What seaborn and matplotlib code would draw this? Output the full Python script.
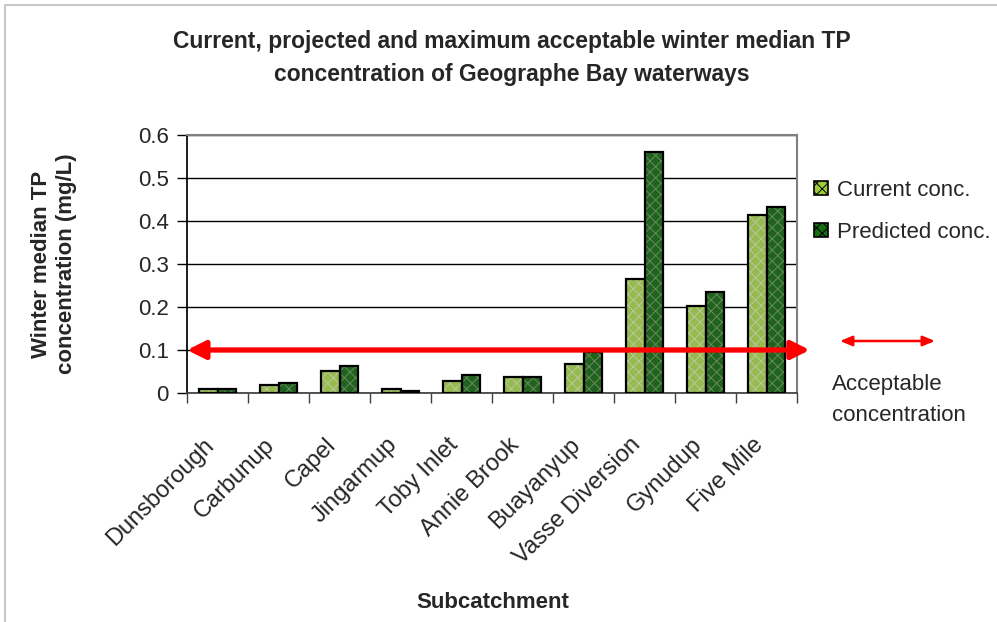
import numpy as np
import pandas as pd
import matplotlib
matplotlib.use("Agg")
import matplotlib.pyplot as plt
import matplotlib.transforms as mtransforms
from matplotlib.patches import Rectangle, Patch
import seaborn as sns

# Data
subcatchments = ["Dunsborough", "Carbunup", "Capel", "Jingarmup", "Toby Inlet",
                 "Annie Brook", "Buayanyup", "Vasse Diversion", "Gynudup", "Five Mile"]
current_conc = [0.010, 0.018, 0.052, 0.010, 0.028, 0.038, 0.067, 0.265, 0.202, 0.414]
predicted_conc = [0.010, 0.023, 0.062, 0.004, 0.043, 0.038, 0.095, 0.560, 0.236, 0.433]
series_names = ["Current conc.", "Predicted conc."]
acceptable = 0.1
y_ticks = [0, 0.1, 0.2, 0.3, 0.4, 0.5, 0.6]
y_ticklabels = ["0", "0.1", "0.2", "0.3", "0.4", "0.5", "0.6"]

df = pd.DataFrame({
    "Subcatchment": subcatchments * 2,
    "value": current_conc + predicted_conc,
    "Series": [series_names[0]] * len(subcatchments) + [series_names[1]] * len(subcatchments),
})

sns.set_theme(style="white")
plt.rcParams["font.family"] = ["Liberation Sans", "DejaVu Sans"]
plt.rcParams["hatch.linewidth"] = 0.7

face_colors = ["#9ccc3c", "#146e14"]
hatch_colors = ["#b8c8a0", "#6a8a5a"]

fig = plt.figure(figsize=(9.97, 6.22), dpi=100)
ax = fig.add_axes([187 / 997, 1 - 393 / 622, 610 / 997, 258 / 622])

sns.barplot(data=df, x="Subcatchment", y="value", hue="Series",
            palette=face_colors, width=0.6, gap=0, legend=False, ax=ax,
            errorbar=None)

# hatch + black outline like the excel bars
n = len(subcatchments)
for i, bar in enumerate(ax.patches[:2 * n]):
    s = i // n
    bar.set_hatch("xxx")
    bar.set_edgecolor(hatch_colors[s])
    bar.set_linewidth(0)
    ax.add_patch(Rectangle((bar.get_x(), bar.get_y()), bar.get_width(), bar.get_height(),
                           fill=False, edgecolor="black", linewidth=1.6, zorder=3))

ax.set_ylim(0, 0.6)
ax.set_xlim(-0.5, n - 0.5)
ax.set_yticks(y_ticks)
ax.set_yticklabels(y_ticklabels, fontsize=16)
ax.yaxis.grid(True, color="black", linewidth=1)
ax.set_axisbelow(True)
ax.tick_params(axis="y", left=True, length=7, width=1, color="black", pad=6)

# category separators as ticks, labels in centre
ax.set_xticks(np.arange(n))
ax.set_xticklabels(subcatchments, rotation=45, ha="right", va="center",
                   rotation_mode="anchor", fontsize=17)
ax.tick_params(axis="x", bottom=False, pad=29)
shift = mtransforms.ScaledTranslation(-5 / 72, 0, fig.dpi_scale_trans)
for lab in ax.get_xticklabels():
    lab.set_transform(lab.get_transform() + shift)
ax.set_xticks(np.arange(n + 1) - 0.5, minor=True)
ax.tick_params(axis="x", which="minor", bottom=True, length=7, width=1, color="#404040")
ax.set_xlabel("")
ax.set_ylabel("")

for side in ["top", "right"]:
    ax.spines[side].set_color("#808080")
    ax.spines[side].set_linewidth(1.5)
ax.spines["left"].set_color("black")
ax.spines["bottom"].set_color("#404040")

# acceptable concentration arrow
ax.annotate("", xy=(n - 0.29, acceptable), xytext=(-0.5, acceptable),
            xycoords="data", textcoords="data", annotation_clip=False,
            arrowprops=dict(arrowstyle="<|-|>,head_length=0.9,head_width=0.45",
                            color="#ff0000", lw=3.8, shrinkA=0, shrinkB=0), zorder=5)

# legend
handles = [Patch(facecolor=face_colors[k], edgecolor="black", hatch="xxx", linewidth=1.2)
           for k in range(2)]
fig.legend(handles, series_names, loc="upper left", bbox_to_anchor=(0.808, 0.725),
           frameon=False, fontsize=16, handlelength=0.6, handleheight=0.6,
           handletextpad=0.4, labelspacing=0.95, borderaxespad=0)

ax.annotate("", xy=(935 / 997, 1 - 341 / 622), xytext=(840 / 997, 1 - 341 / 622),
            xycoords="figure fraction", textcoords="figure fraction",
            arrowprops=dict(arrowstyle="<|-|>,head_length=0.6,head_width=0.25",
                            color="#ff0000", lw=1.8, shrinkA=0, shrinkB=0))
fig.text(832 / 997, 1 - 374 / 622, "Acceptable\nconcentration", fontsize=16,
         ha="left", va="top", linespacing=1.65)

# titles and axis labels
fig.text(512 / 997, 1 - 58 / 622,
         "Current, projected and maximum acceptable winter median TP\nconcentration of Geographe Bay waterways",
         ha="center", va="center", fontsize=16.5, fontweight="bold", linespacing=1.55)
fig.text(54 / 997, 1 - 264 / 622, "Winter median TP\nconcentration (mg/L)",
         rotation=90, ha="center", va="center", fontsize=16, fontweight="bold",
         linespacing=1.3)
fig.text(493 / 997, 1 - 602 / 622, "Subcatchment", ha="center", va="center",
         fontsize=16, fontweight="bold")

# light grey frame around the chart area
fig.add_artist(Rectangle((5 / 997, -0.05), 1.2, 1 - 5 / 622 + 0.05,
                         transform=fig.transFigure, fill=False,
                         edgecolor="#c8c8c8", linewidth=1.5))

fig.savefig("out.png", dpi=100)
